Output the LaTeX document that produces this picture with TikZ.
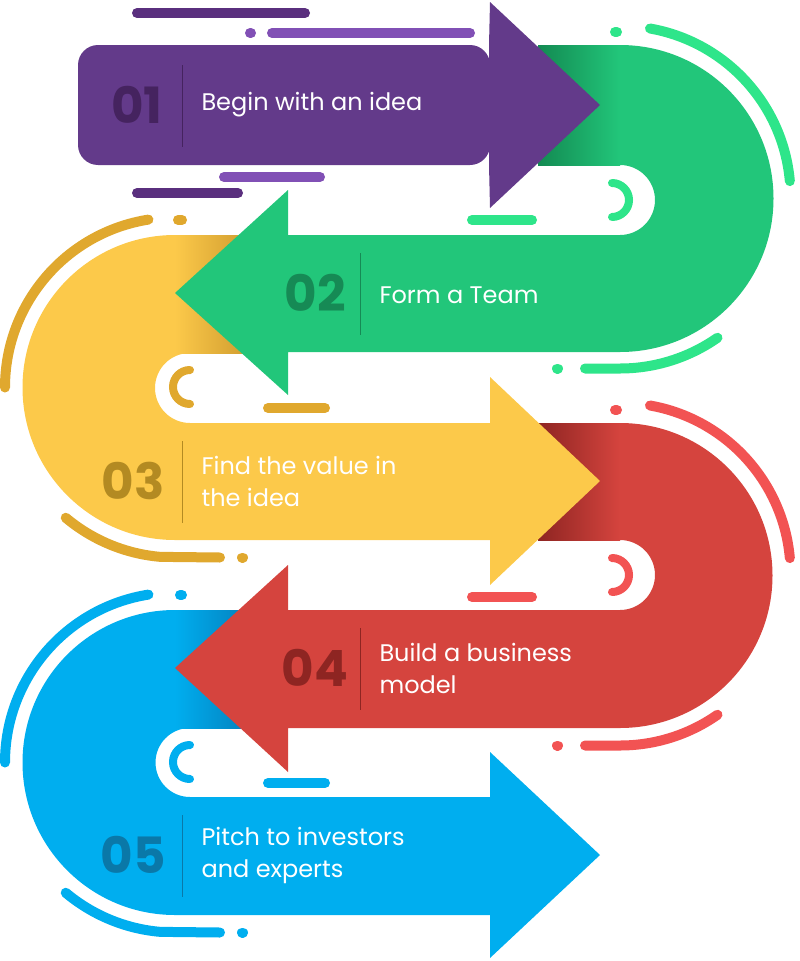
\documentclass[tikz,border=0pt]{standalone}
\usepackage{fontspec}
\setmainfont{Poppins}
\definecolor{pur}{HTML}{633A8A}\definecolor{purD}{HTML}{45235F}\definecolor{purL1}{HTML}{5A2F7E}\definecolor{purL2}{HTML}{8150B5}
\definecolor{grn}{HTML}{22C67A}\definecolor{grnD}{HTML}{168A55}\definecolor{grnL}{HTML}{2EE58A}\definecolor{grnS}{HTML}{138A52}
\definecolor{yel}{HTML}{FCC94A}\definecolor{yelD}{HTML}{B38A22}\definecolor{yelL}{HTML}{E0A82E}\definecolor{yelS}{HTML}{C8942A}
\definecolor{red}{HTML}{D5443E}\definecolor{redD}{HTML}{8E2522}\definecolor{redL}{HTML}{F25353}\definecolor{redS}{HTML}{8E2522}
\definecolor{blu}{HTML}{00AEEF}\definecolor{bluD}{HTML}{0A78A8}\definecolor{bluL}{HTML}{00AEEF}\definecolor{bluS}{HTML}{0579B5}
\tikzset{deco/.style={line width=10pt,line cap=round},
 num/.style={font=\fontsize{50}{50}\selectfont\bfseries,anchor=center},
 lbl/.style={font=\fontsize{24}{32}\selectfont,text=white,anchor=west,align=left},
 sep/.style={line width=1pt}}
\begin{document}
\begin{tikzpicture}[x=1pt,y=-1pt]
\useasboundingbox (0,0) rectangle (800,961);
% ---- blue piece
\fill[blu] (260,610) -- (175,610) arc[start angle=-90,end angle=-270,radius=152.5] -- (490,915) -- (490,958) -- (600,855) -- (490,752) -- (490,797) -- (190,797) arc[start angle=90,end angle=270,radius=34.5] -- (260,728) -- cycle;
\shade[left color=blu,right color=bluS] (175,610) rectangle (262,728);
\draw[deco,bluL] (180,595) -- (182,595);
\draw[deco,bluL] (175,762.5) ++(-99:170) arc[start angle=-99,end angle=-180,radius=170];
\draw[deco,bluL] (175,762.5) ++(130:170) arc[start angle=130,end angle=95,radius=170] -- (220,932.5);
\draw[deco,bluL] (242,932.5) -- (243,932.5);
\draw[line width=8pt,line cap=round,bluL] (190,745) arc[start angle=-90,end angle=-270,radius=17];
\draw[deco,bluL] (268,783) -- (325,783);
% ---- red piece
\fill[red] (540,423) -- (620,423) arc[start angle=-90,end angle=90,radius=152.5] -- (288,728) -- (288,772) -- (175,668) -- (288,565) -- (288,610) -- (620,610) arc[start angle=90,end angle=-90,radius=35] -- (540,540) -- cycle;
\shade[left color=redS,right color=red] (538,423) rectangle (620,540);
\draw[deco,redL] (615,410) -- (617,410);
\draw[deco,redL] (650,405.5) arc[start angle=-80,end angle=-5,radius=170];
\draw[deco,redL] (557,745.5) -- (558,745.5);
\draw[deco,redL] (585,745.5) -- (620,745.5) arc[start angle=90,end angle=55,radius=170];
\draw[line width=8pt,line cap=round,redL] (612,558) arc[start angle=-90,end angle=90,radius=17];
\draw[deco,redL] (472,597) -- (532,597);
% ---- yellow piece
\fill[yel] (260,235) -- (175,235) arc[start angle=-90,end angle=-270,radius=152.5] -- (490,540) -- (490,585) -- (600,481) -- (490,377) -- (490,423) -- (190,423) arc[start angle=90,end angle=270,radius=35] -- (260,353) -- cycle;
\shade[left color=yel,right color=yelS] (175,235) rectangle (262,353);
\draw[deco,yelL] (178,220) -- (182,220);
\draw[deco,yelL] (175,387.5) ++(-99:170) arc[start angle=-99,end angle=-180,radius=170];
\draw[deco,yelL] (175,387.5) ++(130:170) arc[start angle=130,end angle=95,radius=170] -- (220,557.5);
\draw[deco,yelL] (242,557.5) -- (243,557.5);
\draw[line width=8pt,line cap=round,yelL] (190,370) arc[start angle=-90,end angle=-270,radius=17];
\draw[deco,yelL] (268,408) -- (325,408);
% ---- green piece
\fill[grn] (540,45) -- (620,45) arc[start angle=-90,end angle=90,radius=153.5] -- (288,352) -- (288,395) -- (175,293) -- (288,190) -- (288,235) -- (620,235) arc[start angle=90,end angle=-90,radius=35] -- (540,165) -- cycle;
\shade[left color=grnS,right color=grn] (538,45) rectangle (620,165);
\draw[deco,grnL] (615,32) -- (617,32);
\draw[deco,grnL] (650,28.5) arc[start angle=-80,end angle=-5,radius=170];
\draw[deco,grnL] (557,368.5) -- (558,368.5);
\draw[deco,grnL] (585,368.5) -- (620,368.5) arc[start angle=90,end angle=55,radius=170];
\draw[line width=8pt,line cap=round,grnL] (612,183) arc[start angle=-90,end angle=90,radius=17];
\draw[deco,grnL] (472,220) -- (532,220);
% ---- purple arrow
\fill[pur,rounded corners=20pt] (490,45) -- (78,45) -- (78,165) -- (490,165) -- cycle;
\fill[pur] (489,45) -- (490,2) -- (600,105) -- (490,208) -- (489,165) -- cycle;
\draw[deco,purL1] (137,13) -- (305,13);
\draw[deco,purL2] (250,33) -- (251,33);
\draw[deco,purL2] (272,33) -- (470,33);
\draw[deco,purL2] (224,177) -- (320,177);
\draw[deco,purL1] (137,193) -- (238,193);
% ---- texts
\node[num,text=purD] (n1) at (137,105) {01};
\draw[sep,purD] (182,65) -- (182,147);
\node[lbl] (t1) at (198,105) {Begin with an idea};
\node[num,text=grnD] (n2) at (315,293) {02};
\draw[sep,grnD] (360,253) -- (360,335);
\node[lbl] (t2) at (376,295) {Form a Team};
\node[num,text=yelD] (n3) at (133,481) {03};
\draw[sep,yelD] (182,441) -- (182,523);
\node[lbl] (t3) at (198,481) {Find the value in\\the idea};
\node[num,text=redD] (n4) at (315,668) {04};
\draw[sep,redD] (360,628) -- (360,710);
\node[lbl] (t4) at (376,668) {Build a business\\model};
\node[num,text=bluD] (n5) at (133,855) {05};
\draw[sep,bluD] (182,815) -- (182,897);
\node[lbl] (t5) at (198,855) {Pitch to investors\\and experts};
\end{tikzpicture}
\end{document}
